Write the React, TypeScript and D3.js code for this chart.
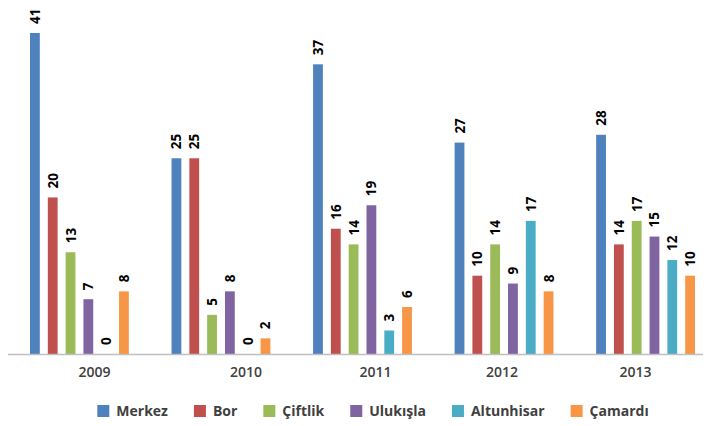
import React from "react";
import * as d3 from "d3";

const years = ["2009", "2010", "2011", "2012", "2013"];
const seriesNames = ["Merkez", "Bor", "Çiftlik", "Ulukışla", "Altunhisar", "Çamardı"];
const merkez = [41, 25, 37, 27, 28];
const bor = [20, 25, 16, 10, 14];
const ciftlik = [13, 5, 14, 14, 17];
const ulukisla = [7, 8, 19, 9, 15];
const altunhisar = [0, 0, 3, 17, 12];
const camardi = [8, 2, 6, 8, 10];
const seriesValues = [merkez, bor, ciftlik, ulukisla, altunhisar, camardi];
const colors = ["#4F81BD", "#C0504D", "#9BBB59", "#8064A2", "#4BACC6", "#F79646"];

// layout: small horizontal nudges of the category labels as seen in the reference
const yearLabelShift = [15, 25, 13, -2, -10];

const W = 707;
const H = 426;
const FONT = "'Open Sans', 'DejaVu Sans', sans-serif";

function measure(text: string, font: string): number {
  const c = document.createElement("canvas");
  const ctx = c.getContext("2d");
  if (!ctx) return text.length * 8;
  ctx.font = font;
  return ctx.measureText(text).width;
}

export default function App() {
  const baseline = 354;
  const x0 = d3.scaleBand<string>().domain(years).range([26, 699]).paddingInner(0.245).paddingOuter(0);
  const x1 = d3
    .scaleBand<string>()
    .domain(seriesNames)
    .range([0, x0.bandwidth()])
    .paddingInner(0.45)
    .paddingOuter(0.225);
  const y = d3.scaleLinear().domain([0, 41]).range([baseline, 33]);

  const legendFont = `bold 14px ${FONT}`;
  const widths = seriesNames.map((s) => measure(s, legendFont));
  const sq = 12;
  const sqGap = 7;
  const itemGap = 26;
  const total = widths.reduce((a, w) => a + sq + sqGap + w, 0) + itemGap * (seriesNames.length - 1);
  let cursor = 373 - total / 2;
  const legendItems = seriesNames.map((s, i) => {
    const xi = cursor;
    cursor += sq + sqGap + widths[i] + itemGap;
    return { name: s, x: xi, color: colors[i] };
  });

  return (
    <svg
      width={W}
      height={H}
      style={{ position: "absolute", left: 0, top: 0, background: "#fff" }}
      fontFamily={FONT}
    >
      <rect x={0} y={0} width={W} height={H} fill="#fff" />
      {years.map((yr, gi) => (
        <g key={yr} transform={`translate(${x0(yr)},0)`}>
          {seriesNames.map((s, si) => {
            const v = seriesValues[si][gi];
            const bx = x1(s) as number;
            const bw = x1.bandwidth();
            const top = y(v);
            const cx = bx + bw / 2;
            const ly = top - 9;
            return (
              <g key={s}>
                {v > 0 && <rect x={bx} y={top} width={bw} height={baseline - top} fill={colors[si]} />}
                <text
                  transform={`translate(${cx + 5},${ly}) rotate(-90)`}
                  fontSize={13.5}
                  fontWeight="bold"
                  fill="#000"
                  textAnchor="start"
                >
                  {v}
                </text>
              </g>
            );
          })}
        </g>
      ))}
      <line x1={8} x2={703} y1={baseline + 0.5} y2={baseline + 0.5} stroke="#bfbfbf" strokeWidth={1.5} />
      {years.map((yr, i) => (
        <text
          key={yr}
          x={(x0(yr) as number) + x0.bandwidth() / 2 + yearLabelShift[i]}
          y={377}
          textAnchor="middle"
          fontSize={14}
          fontWeight={600}
          fill="#404040"
        >
          {yr}
        </text>
      ))}
      {legendItems.map((it) => (
        <g key={it.name}>
          <rect x={it.x} y={405} width={sq} height={sq} fill={it.color} />
          <text x={it.x + sq + sqGap} y={416} fontSize={14} fontWeight="bold" fill="#404040">
            {it.name}
          </text>
        </g>
      ))}
    </svg>
  );
}
